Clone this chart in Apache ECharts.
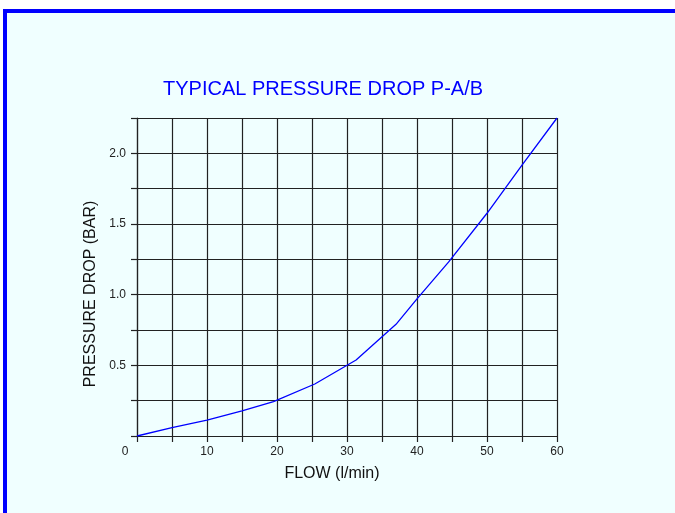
<!DOCTYPE html>
<html>
<head>
<meta charset="utf-8">
<style>
html,body{margin:0;padding:0;background:#fff;}
#c{width:675px;height:513px;}
</style>
<script src="https://cdn.jsdelivr.net/npm/echarts@6/dist/echarts.min.js"></script>
</head>
<body>
<div id="c"></div>
<script>
var titleText = 'TYPICAL PRESSURE DROP P-A/B';
var xName = 'FLOW (l/min)';
var yName = 'PRESSURE DROP (BAR)';
var flow = [0, 5, 10, 15, 19.5, 25.4, 31.3, 37, 40, 44.5, 50, 55, 60];
var pressure = [0, 0.059, 0.113, 0.177, 0.243, 0.368, 0.538, 0.79, 0.97, 1.23, 1.576, 1.916, 2.25];
var xLabels = [0, 10, 20, 30, 40, 50, 60];
var yLabels = [0.5, 1.0, 1.5, 2.0];

var FONT = '"Liberation Sans", Arial, sans-serif';
var chart = echarts.init(document.getElementById('c'));
var pts = flow.map(function (f, i) { return [f, pressure[i]]; });

chart.setOption({
  backgroundColor: '#ffffff',
  animation: false,
  graphic: [
    { type: 'rect', z: -10, shape: { x: 3, y: 9, width: 700, height: 520 }, style: { fill: '#F0FFFF' } },
    { type: 'rect', z: -9, shape: { x: 3, y: 9, width: 700, height: 4 }, style: { fill: '#0000FF' } },
    { type: 'rect', z: -9, shape: { x: 3, y: 9, width: 4, height: 520 }, style: { fill: '#0000FF' } }
  ],
  title: {
    text: titleText,
    left: 163, top: 79, padding: 0,
    textStyle: { color: '#0000FF', fontSize: 20, fontWeight: 'normal', fontFamily: FONT }
  },
  grid: { left: 137, top: 118, right: 118, bottom: 77 },
  xAxis: {
    type: 'value', min: 0, max: 60, interval: 5,
    name: xName, nameLocation: 'middle', nameGap: 30,
    nameTextStyle: { color: '#111', fontSize: 16, fontFamily: FONT, padding: [0, 30, 0, 0] },
    axisLine: { show: true, lineStyle: { color: '#222', width: 1.2 } },
    axisTick: { show: true, length: 6, lineStyle: { color: '#222', width: 1.2 } },
    splitLine: { show: true, lineStyle: { color: '#222', width: 1.2 } },
    axisLabel: {
      margin: 10, color: '#222', fontSize: 12, fontFamily: FONT,
      formatter: function (v) {
        if (xLabels.indexOf(v) < 0) return '';
        if (v === 0) return '{z|0}';
        return String(v);
      },
      rich: { z: { fontSize: 12, fontFamily: FONT, color: '#222', padding: [0, 24, 0, 0] } }
    }
  },
  yAxis: {
    type: 'value', min: 0, max: 2.25, interval: 0.25,
    name: yName, nameLocation: 'middle', nameGap: 38, nameRotate: 90,
    nameTextStyle: { color: '#111', fontSize: 16, fontFamily: FONT, padding: [0, 34, 0, 0] },
    axisLine: { show: true, lineStyle: { color: '#222', width: 1.2 } },
    axisTick: { show: true, length: 6, lineStyle: { color: '#222', width: 1.2 } },
    splitLine: { show: true, lineStyle: { color: '#222', width: 1.2 } },
    axisLabel: {
      margin: 11, color: '#222', fontSize: 12, fontFamily: FONT,
      formatter: function (v) {
        for (var i = 0; i < yLabels.length; i++) {
          if (Math.abs(yLabels[i] - v) < 1e-9) return yLabels[i].toFixed(1);
        }
        return '';
      }
    }
  },
  series: [{
    type: 'line', data: pts, symbol: 'none', smooth: false,
    lineStyle: { color: '#0000FF', width: 1.3 }
  }]
});
</script>
</body>
</html>
